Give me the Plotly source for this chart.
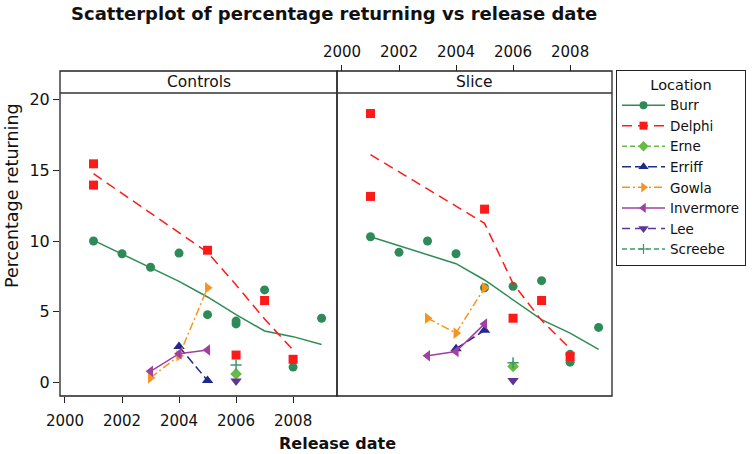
import plotly.graph_objects as go

# ---------------- data ----------------
years_tick = [2000, 2002, 2004, 2006, 2008]
y_ticks = [0, 5, 10, 15, 20]
panels = ["Controls", "Slice"]
locations = ["Burr", "Delphi", "Erne", "Erriff", "Gowla", "Invermore", "Lee", "Screebe"]

# Controls panel
burr_c_x = [2001, 2002, 2003, 2004, 2005, 2006, 2006, 2007, 2008, 2009]
burr_c_y = [10.0, 9.1, 8.15, 9.15, 4.8, 4.35, 4.15, 6.55, 1.1, 4.55]
burr_c_fit_x = [2001, 2002, 2003, 2004, 2005, 2006, 2007, 2008, 2009]
burr_c_fit_y = [10.05, 9.1, 8.15, 7.15, 6.05, 4.8, 3.65, 3.25, 2.7]
delphi_c_x = [2001, 2001, 2005, 2006, 2007, 2008]
delphi_c_y = [15.45, 13.95, 9.35, 1.95, 5.8, 1.65]
delphi_c_fit_x = [2001, 2002, 2003, 2004, 2005, 2006, 2007, 2008]
delphi_c_fit_y = [14.75, 13.35, 11.95, 10.6, 9.2, 6.9, 4.5, 2.3]
erne_c_x, erne_c_y = [2006], [0.62]
erriff_c_x, erriff_c_y = [2004, 2005], [2.55, 0.15]
gowla_c_x, gowla_c_y = [2003, 2004, 2005], [0.35, 1.9, 6.7]
invermore_c_x, invermore_c_y = [2003, 2004, 2005], [0.8, 2.05, 2.3]
lee_c_x, lee_c_y = [2006], [0.12]
screebe_c_x, screebe_c_y = [2006], [1.25]

# Slice panel
burr_s_x = [2001, 2002, 2003, 2004, 2005, 2006, 2007, 2008, 2008, 2009]
burr_s_y = [10.3, 9.2, 10.0, 9.1, 6.7, 6.8, 7.2, 2.0, 1.45, 3.9]
burr_s_fit_x = [2001, 2002, 2003, 2004, 2005, 2006, 2007, 2008, 2009]
burr_s_fit_y = [10.3, 9.65, 9.0, 8.4, 7.25, 5.85, 4.45, 3.5, 2.35]
delphi_s_x = [2001, 2001, 2005, 2006, 2007, 2008]
delphi_s_y = [19.0, 13.15, 12.25, 4.55, 5.8, 1.85]
delphi_s_fit_x = [2001, 2002, 2003, 2004, 2005, 2006, 2007, 2008]
delphi_s_fit_y = [16.1, 14.9, 13.7, 12.5, 11.25, 7.0, 4.4, 2.4]
erne_s_x, erne_s_y = [2006], [1.15]
erriff_s_x, erriff_s_y = [2004, 2005], [2.4, 3.7]
gowla_s_x, gowla_s_y = [2003, 2004, 2005], [4.55, 3.5, 6.7]
invermore_s_x, invermore_s_y = [2003, 2004, 2005], [1.9, 2.2, 4.15]
lee_s_x, lee_s_y = [2006], [0.15]
screebe_s_x, screebe_s_y = [2006], [1.4]

# ---------------- styles ----------------
style = {
    "Burr":      dict(color="#2E8B57", symbol="circle", dash="solid", size=9),
    "Delphi":    dict(color="#FF1A1A", symbol="square", dash="10px,6px", size=9),
    "Erne":      dict(color="#66BB44", symbol="diamond", dash="5px,3px", size=9),
    "Erriff":    dict(color="#1F2A8C", symbol="triangle-up", dash="9px,4px", size=10),
    "Gowla":     dict(color="#F7941D", symbol="triangle-right", dash="8px,3px,2px,3px", size=10),
    "Invermore": dict(color="#A040A0", symbol="triangle-left", dash="solid", size=10),
    "Lee":       dict(color="#5E3494", symbol="triangle-down", dash="8px,5px", size=10),
    "Screebe":   dict(color="#3C9A6A", symbol="cross-thin-open", dash="5px,3px", size=8),
}

points = {
    ("Burr", 0): (burr_c_x, burr_c_y), ("Burr", 1): (burr_s_x, burr_s_y),
    ("Delphi", 0): (delphi_c_x, delphi_c_y), ("Delphi", 1): (delphi_s_x, delphi_s_y),
    ("Erne", 0): (erne_c_x, erne_c_y), ("Erne", 1): (erne_s_x, erne_s_y),
    ("Erriff", 0): (erriff_c_x, erriff_c_y), ("Erriff", 1): (erriff_s_x, erriff_s_y),
    ("Gowla", 0): (gowla_c_x, gowla_c_y), ("Gowla", 1): (gowla_s_x, gowla_s_y),
    ("Invermore", 0): (invermore_c_x, invermore_c_y), ("Invermore", 1): (invermore_s_x, invermore_s_y),
    ("Lee", 0): (lee_c_x, lee_c_y), ("Lee", 1): (lee_s_x, lee_s_y),
    ("Screebe", 0): (screebe_c_x, screebe_c_y), ("Screebe", 1): (screebe_s_x, screebe_s_y),
}
lines = {
    ("Burr", 0): (burr_c_fit_x, burr_c_fit_y), ("Burr", 1): (burr_s_fit_x, burr_s_fit_y),
    ("Delphi", 0): (delphi_c_fit_x, delphi_c_fit_y), ("Delphi", 1): (delphi_s_fit_x, delphi_s_fit_y),
}

FONT = "DejaVu Sans"
W, H = 753, 454


def px(x):
    return x / W


def py(y):
    return 1 - y / H


fig = go.Figure()

for loc in locations:
    st = style[loc]
    is_cross = st["symbol"].startswith("cross")
    for p in (0, 1):
        xa, ya = ("x", "y") if p == 0 else ("x2", "y2")
        lx, ly = lines.get((loc, p), points[(loc, p)])
        fig.add_trace(go.Scatter(
            x=lx, y=ly, mode="lines", xaxis=xa, yaxis=ya,
            line=dict(color=st["color"], width=1.5, dash=st["dash"]),
            showlegend=False, hoverinfo="skip", legendgroup=loc))
        mx, my = points[(loc, p)]
        mk = dict(color=st["color"], symbol=st["symbol"], size=st["size"])
        if is_cross:
            mk["line"] = dict(color=st["color"], width=1.5)
        fig.add_trace(go.Scatter(
            x=mx, y=my, mode="markers", xaxis=xa, yaxis=ya,
            marker=mk, showlegend=False, legendgroup=loc, name=loc))
    lm = dict(color=st["color"], symbol=st["symbol"], size=st["size"] - 1)
    if is_cross:
        lm["line"] = dict(color=st["color"], width=1.2)
    fig.add_trace(go.Scatter(
        x=[None], y=[None], mode="lines+markers", name=loc, legendgroup=loc,
        line=dict(color=st["color"], width=1.5, dash=st["dash"]),
        marker=lm, showlegend=True))

axis_common = dict(showgrid=False, zeroline=False, showline=False,
                   ticks="outside", ticklen=6, tickwidth=1, tickcolor="#222")

fig.update_layout(
    width=W, height=H,
    margin=dict(l=0, r=0, t=0, b=0, autoexpand=False),
    paper_bgcolor="white", plot_bgcolor="white",
    font=dict(family=FONT, color="#111"),
    xaxis=dict(domain=[px(60), px(337)], range=[1999.825, 2009.54],
               tickvals=years_tick, tickfont=dict(size=15), anchor="y",
               ticklabelstandoff=5, **axis_common),
    xaxis2=dict(domain=[px(337), px(612)], range=[1999.825, 2009.47],
                tickvals=years_tick, tickfont=dict(size=15), side="top",
                anchor="free", position=py(71), ticklabelstandoff=2, **axis_common),
    yaxis=dict(domain=[py(396), py(93)], range=[-0.94, 20.45],
               tickvals=y_ticks, tickfont=dict(size=16), anchor="x", **axis_common),
    yaxis2=dict(domain=[py(396), py(93)], range=[-0.94, 20.45], matches="y",
                anchor="x2", showticklabels=False, showgrid=False, zeroline=False,
                showline=False, ticks=""),
    legend=dict(x=px(616), y=py(70), xanchor="left", yanchor="top",
                bordercolor="#222", borderwidth=1, bgcolor="white",
                font=dict(size=13.5, family=FONT), itemwidth=43,
                title=dict(text="Location", side="top center", font=dict(size=14.5, family=FONT)),
                traceorder="normal"),
    showlegend=True,
)

shapes = []
for x0, x1 in [(60, 337), (337, 612)]:
    shapes.append(dict(type="rect", xref="paper", yref="paper",
                       x0=px(x0), x1=px(x1), y0=py(396), y1=py(71),
                       line=dict(color="#222", width=1.3)))
shapes.append(dict(type="line", xref="paper", yref="paper",
                   x0=px(60), x1=px(612), y0=py(93), y1=py(93),
                   line=dict(color="#333", width=1.5)))
fig.update_layout(shapes=shapes)

annotations = [
    dict(text="Controls", x=px((60 + 337) / 2), y=py(82), xref="paper", yref="paper",
         showarrow=False, font=dict(size=15.5), xanchor="center", yanchor="middle"),
    dict(text="Slice", x=px((337 + 612) / 2), y=py(82), xref="paper", yref="paper",
         showarrow=False, font=dict(size=15.5), xanchor="center", yanchor="middle"),
    dict(text="<b>Scatterplot of percentage returning vs release date</b>",
         x=px(334), y=py(13), xref="paper", yref="paper", showarrow=False,
         font=dict(size=18), xanchor="center", yanchor="middle"),
    dict(text="Percentage returning", x=px(12), y=py(196), xref="paper", yref="paper",
         showarrow=False, textangle=-90, font=dict(size=17.5),
         xanchor="center", yanchor="middle"),
    dict(text="<b>Release date</b>", x=px(337), y=py(443), xref="paper", yref="paper",
         showarrow=False, font=dict(size=16), xanchor="center", yanchor="middle"),
]
fig.update_layout(annotations=annotations)

fig.write_html("out.html", config={"displayModeBar": False},
               post_script="document.body.style.margin='0';")
